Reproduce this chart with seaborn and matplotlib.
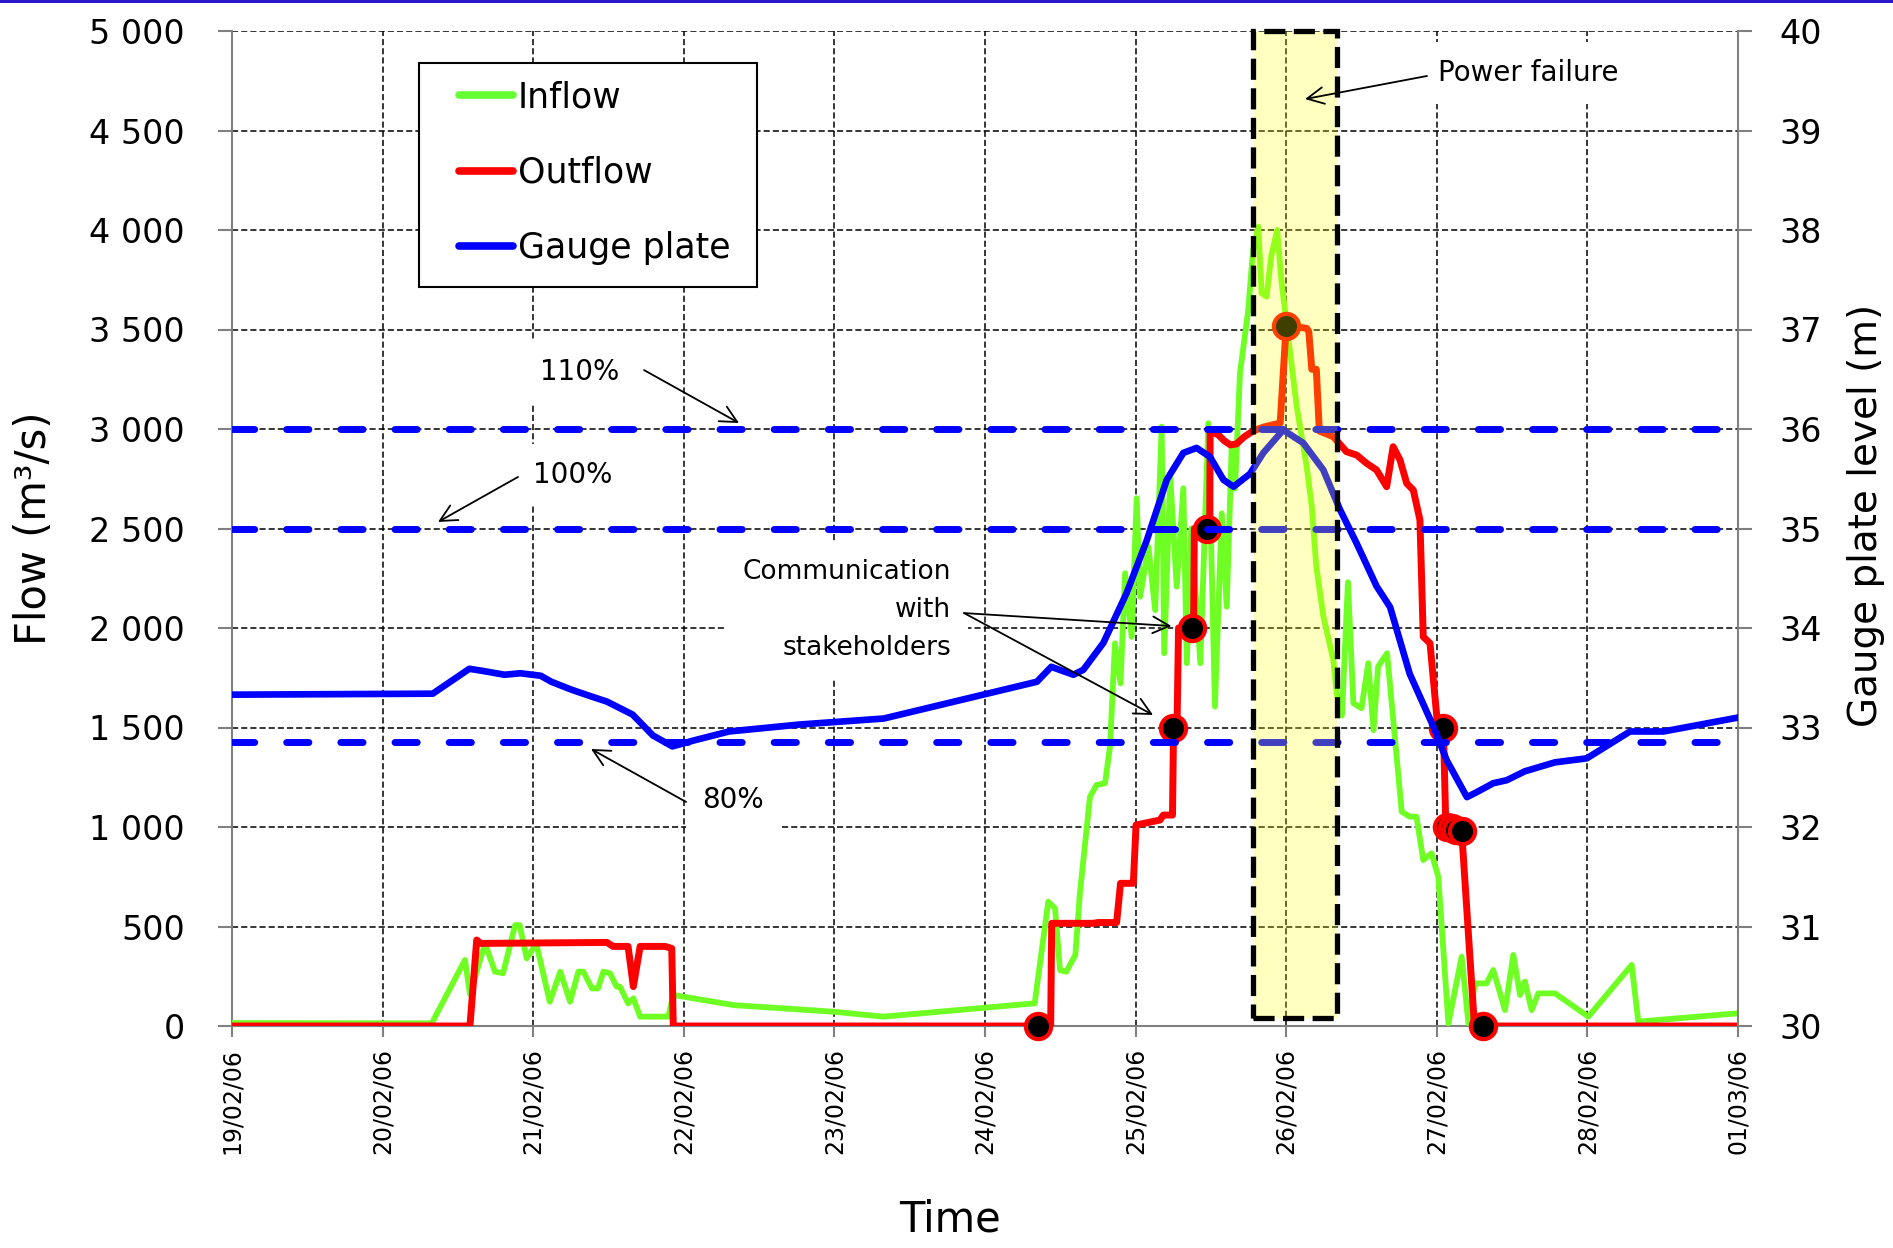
import numpy as np
import matplotlib
matplotlib.use("Agg")
import matplotlib.pyplot as plt
import seaborn as sns
from matplotlib.patches import Rectangle
from matplotlib.lines import Line2D

# ---------------- data (time in days after 19/02/06 00:00) ----------------
day_labels = ["19/02/06", "20/02/06", "21/02/06", "22/02/06", "23/02/06", "24/02/06",
              "25/02/06", "26/02/06", "27/02/06", "28/02/06", "01/03/06"]

flow_ticks = [0, 500, 1000, 1500, 2000, 2500, 3000, 3500, 4000, 4500, 5000]
level_ticks = [30, 31, 32, 33, 34, 35, 36, 37, 38, 39, 40]

inflow_t = [0.0, 1.326, 1.547, 1.58, 1.68, 1.746, 1.80, 1.88, 1.91, 1.957, 2.02, 2.11, 2.18,
            2.245, 2.30, 2.333, 2.39, 2.43, 2.466, 2.51, 2.554, 2.576, 2.63, 2.665, 2.71,
            2.897, 2.93, 3.33, 3.99, 4.325, 5.33, 5.42, 5.465, 5.498, 5.54, 5.6, 5.63, 5.697,
            5.74, 5.797, 5.83, 5.863, 5.9, 5.93, 5.974, 6.007, 6.03, 6.085, 6.13, 6.173,
            6.19, 6.23, 6.273, 6.317, 6.34, 6.37, 6.43, 6.483, 6.527, 6.572, 6.605, 6.638,
            6.66, 6.693, 6.748, 6.78, 6.815, 6.837, 6.87, 6.9, 6.94, 6.97, 7.07, 7.136, 7.17,
            7.2, 7.247, 7.313, 7.335, 7.37, 7.41, 7.446, 7.5, 7.545, 7.58, 7.61, 7.67, 7.767,
            7.82, 7.865, 7.91, 7.965, 8.01, 8.077, 8.165, 8.21, 8.254, 8.33, 8.375, 8.453,
            8.508, 8.553, 8.585, 8.63, 8.674, 8.785, 9.006, 9.294, 9.338, 10.0]
inflow_q = [15, 13, 332, 160, 415, 273, 265, 507, 507, 340, 415, 122, 273,
            122, 273, 273, 189, 189, 273, 265, 198, 198, 114, 139, 47,
            47, 156, 105, 72, 47, 114, 625, 591, 281, 273, 357, 667, 1152,
            1211, 1220, 1404, 1923, 1722, 2275, 1956, 2652, 2157, 2409, 2090, 3012,
            1873, 2760, 2208, 2702, 1823, 2500, 1823, 3029, 1605, 2576, 2107, 2911,
            2700, 3280, 3598, 3899, 4017, 3682, 3665, 3866, 4000, 3732, 3112, 2811, 2610,
            2308, 2057, 1839, 1672, 1560, 2230, 1622, 1597, 1823, 1487, 1806, 1873, 1077,
            1052, 1052, 834, 868, 750, 13, 348, 13, 214, 214, 281, 80,
            357, 156, 223, 80, 164, 164, 47, 307, 22, 64]

outflow_t = [0.0, 1.58, 1.625, 1.65, 2.49, 2.53, 2.63, 2.665, 2.71, 2.875, 2.92, 2.93,
             5.436, 5.443, 5.72, 5.75, 5.874, 5.9, 5.985, 6.003, 6.162, 6.184, 6.245,
             6.252, 6.275, 6.285, 6.372, 6.385, 6.39, 6.476, 6.492, 6.495, 6.55, 6.59,
             6.63, 6.67, 6.72, 6.78, 6.85, 6.96, 7.0, 7.136, 7.15, 7.17, 7.2, 7.22,
             7.313, 7.40, 7.468, 7.535, 7.6, 7.667, 7.71, 7.756, 7.8, 7.844, 7.888,
             7.91, 7.955, 8.0, 8.044, 8.06, 8.165, 8.25, 10.0]
outflow_q = [0, 0, 432, 415, 420, 400, 400, 198, 400, 400, 390, 0,
             0, 516, 516, 520, 520, 717, 717, 1010, 1035, 1060, 1060,
             1500, 1500, 2000, 2000, 2000, 2500, 2500, 2500, 2990, 2970, 2940,
             2920, 2925, 2960, 2990, 3010, 3030, 3520, 3506, 3490, 3300, 3300, 2990,
             2961, 2886, 2869, 2827, 2794, 2710, 2911, 2844, 2727, 2693, 2543,
             1956, 1923, 1554, 1491, 1002, 981, 0, 0]

gauge_t = [0.0, 1.333, 1.576, 1.66, 1.81, 1.915, 2.05, 2.12, 2.254, 2.39, 2.49, 2.66,
           2.795, 2.924, 3.067, 3.30, 3.77, 4.327, 5.345, 5.44, 5.587, 5.653, 5.786,
           5.94, 6.074, 6.207, 6.317, 6.405, 6.494, 6.583, 6.65, 6.76, 6.848, 6.98,
           7.113, 7.246, 7.357, 7.468, 7.6, 7.69, 7.82, 7.977, 8.066, 8.2, 8.265,
           8.375, 8.464, 8.585, 8.785, 8.996, 9.283, 9.505, 10.0]
gauge_h = [33.33, 33.34, 33.59, 33.57, 33.53, 33.545, 33.52, 33.46, 33.38, 33.31, 33.26,
           33.13, 32.92, 32.81, 32.87, 32.96, 33.03, 33.09, 33.46, 33.61, 33.53, 33.58,
           33.85, 34.35, 34.88, 35.49, 35.76, 35.81, 35.72, 35.49, 35.42, 35.55, 35.76,
           35.99, 35.86, 35.59, 35.19, 34.85, 34.42, 34.21, 33.54, 33.01, 32.67, 32.30,
           32.35, 32.44, 32.47, 32.56, 32.65, 32.69, 32.96, 32.96, 33.10]

# communication events on the outflow series
event_t = [5.35, 6.25, 6.372, 6.476, 7.0, 8.044, 8.066, 8.10, 8.13, 8.165, 8.305]
event_q = [0, 1500, 2000, 2500, 3520, 1500, 998, 993, 985, 981, 0]

ref_levels = [36.0, 35.0, 32.85]
ref_labels = ["110%", "100%", "80%"]

power_failure_start, power_failure_end = 6.78, 7.335
power_failure_bottom = 40  # in flow units

# ---------------- styling ----------------
plt.rcParams["font.family"] = ["DejaVu Sans"]
GREEN, RED, BLUE = "#70FF25", "#FF0000", "#0000FF"
GRAY = "#808080"

fig = plt.figure(figsize=(18.93, 12.48), dpi=100)
ax = fig.add_axes([232 / 1893, 1 - 1026 / 1248, 1506 / 1893, 995 / 1248])
ax2 = ax.twinx()

# top decorative stripe
fig.patches.append(Rectangle((0, 1 - 3 / 1248), 1, 3 / 1248, transform=fig.transFigure,
                             facecolor="#2a18c8", edgecolor="none"))

# grid
ax.set_axisbelow(True)
ax.grid(True, color="black", linestyle=(0, (4, 2)), linewidth=1.1)

# flows
sns.lineplot(x=inflow_t, y=inflow_q, ax=ax, sort=False, estimator=None,
             color=GREEN, linewidth=4.2, zorder=3)
sns.lineplot(x=outflow_t, y=outflow_q, ax=ax, sort=False, estimator=None,
             color=RED, linewidth=5.0, zorder=4)
sns.scatterplot(x=event_t, y=event_q, ax=ax, s=330, color="black", edgecolor=RED,
                linewidth=3, zorder=5, clip_on=False)

# gauge level & reference levels
for lev in ref_levels:
    ax2.axhline(lev, color=BLUE, linewidth=5.0, linestyle=(0, (3.2, 4.6)),
                dash_capstyle="round", zorder=2)
sns.lineplot(x=gauge_t, y=gauge_h, ax=ax2, sort=False, estimator=None,
             color=BLUE, linewidth=4.8, zorder=3)

# axes ranges / ticks
ax.set_xlim(0, 10)
ax.set_ylim(0, 5000)
ax2.set_ylim(30, 40)
ax.set_xticks(range(len(day_labels)))
ax.set_xticklabels(day_labels, rotation=90, fontsize=17)
ax.set_yticks(flow_ticks)
ax.set_yticklabels([f"{v:,}".replace(",", " ") for v in flow_ticks], fontsize=24)
ax2.set_yticks(level_ticks)
ax2.set_yticklabels([str(v) for v in level_ticks], fontsize=24)

ax.tick_params(axis="y", direction="out", length=10, width=1.5, color=GRAY, pad=24)
ax.tick_params(axis="x", direction="out", length=8, width=1.5, color=GRAY, pad=8)
ax2.tick_params(axis="y", direction="out", length=10, width=1.5, color=GRAY, pad=20)

for a in (ax, ax2):
    for s in a.spines.values():
        s.set_visible(False)
for side in ("left", "bottom"):
    ax.spines[side].set_visible(True)
    ax.spines[side].set_color(GRAY)
    ax.spines[side].set_linewidth(1.5)
ax2.spines["right"].set_visible(True)
ax2.spines["right"].set_color(GRAY)
ax2.spines["right"].set_linewidth(1.5)

# labels
ax.set_xlabel("Time", fontsize=30)
ax.xaxis.label.set_va("center")
ax.xaxis.set_label_coords((950 - 232) / 1506, (1026 - 1219) / 995)
ax.set_ylabel("Flow (m³/s)", fontsize=30)
ax.yaxis.label.set_va("center")
ax.yaxis.set_label_coords((34 - 232) / 1506, 0.5)
ax2.set_ylabel("Gauge plate level (m)", fontsize=28, rotation=90)
ax2.yaxis.label.set_va("center")
ax2.yaxis.set_label_coords((1866 - 232) / 1506, 0.513)

# power-failure box (translucent overlay)
lev_bottom = 30 + power_failure_bottom / 500.0
ax2.add_patch(Rectangle((power_failure_start, lev_bottom),
                        power_failure_end - power_failure_start, 40 - lev_bottom,
                        facecolor=(1, 1, 0, 0.25), edgecolor="black", linewidth=3.8,
                        linestyle=(0, (4, 1.6)), zorder=8, clip_on=False))

# annotations (positions in days / flow, drawn on the level axis)
def q2h(q):
    return 30 + q / 500.0

txt_kw = dict(fontsize=20, ha="center", va="center", zorder=9,
              bbox=dict(facecolor="white", edgecolor="none", pad=12))
arrow_kw = dict(arrowstyle="->,head_length=0.6,head_width=0.3", color="black",
                lw=1.3, shrinkA=0, shrinkB=0, mutation_scale=20)

ax2.text(2.311, q2h(3286), ref_labels[0], **txt_kw)
ax2.annotate("", xy=(3.367, q2h(3030)), xytext=(2.736, q2h(3296)), arrowprops=arrow_kw, zorder=9)
ax2.text(2.264, q2h(2769), ref_labels[1], **txt_kw)
ax2.annotate("", xy=(1.368, q2h(2533)), xytext=(1.899, q2h(2759)), arrowprops=arrow_kw, zorder=9)
ax2.text(3.327, q2h(1136), ref_labels[2], **txt_kw)
ax2.annotate("", xy=(2.384, q2h(1392)), xytext=(3.015, q2h(1126)), arrowprops=arrow_kw, zorder=9)

comm_kw = dict(txt_kw)
comm_kw.update(fontsize=19, ha="right", multialignment="right", linespacing=1.6)
ax2.text(4.774, q2h(2090), "Communication\nwith\nstakeholders", **comm_kw)
ax2.annotate("", xy=(6.238, q2h(2010)), xytext=(4.861, q2h(2075)), arrowprops=arrow_kw, zorder=9)
ax2.annotate("", xy=(6.116, q2h(1563)), xytext=(4.861, q2h(2075)), arrowprops=arrow_kw, zorder=9)

ax2.text(8.606, q2h(4789), "Power failure", **txt_kw)
ax2.annotate("", xy=(7.125, q2h(4658)), xytext=(7.935, q2h(4774)), arrowprops=arrow_kw, zorder=9)

# legend with manual frame
ax2.add_patch(Rectangle(((419 - 232) / 1506, (1026 - 287) / 995), 338 / 1506, 224 / 995,
                        transform=ax2.transAxes, facecolor="white", edgecolor="black",
                        linewidth=1.5, zorder=10))
handles = [Line2D([], [], color=c, linewidth=5.5, solid_capstyle="round") for c in ("#66FF33", RED, BLUE)]
leg = ax2.legend(handles, ["Inflow", "Outflow", "Gauge plate"], loc="upper left",
                 bbox_to_anchor=((459 - 232) / 1506, (1026 - 80) / 995), frameon=False,
                 fontsize=25, borderpad=0, borderaxespad=0, handlelength=1.55,
                 handletextpad=0.15, labelspacing=1.2)
leg.set_zorder(11)

fig.savefig("out.png", dpi=100)
